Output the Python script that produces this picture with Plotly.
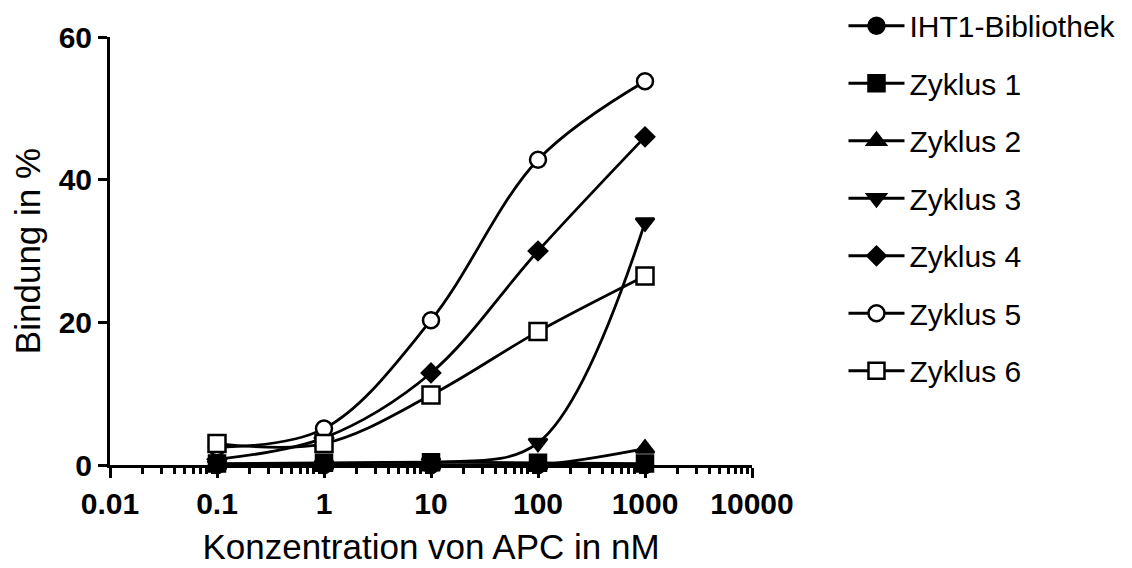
import plotly.graph_objects as go

conc = [0.1, 1, 10, 100, 1000]
names = ["IHT1-Bibliothek", "Zyklus 1", "Zyklus 2", "Zyklus 3", "Zyklus 4", "Zyklus 5", "Zyklus 6"]
iht1 = [0.0, 0.0, 0.0, 0.0, 0.0]
z1 = [0.2, 0.3, 0.4, 0.3, 0.2]
z2 = [0.0, 0.0, 0.0, 0.0, 2.3]
z3 = [0.0, 0.0, 0.3, 3.1, 34.0]
z4 = [0.8, 3.8, 12.9, 30.0, 46.0]
z5 = [2.5, 5.1, 20.3, 42.8, 53.8]
z6 = [3.0, 3.0, 9.8, 18.7, 26.5]
series = [iht1, z1, z2, z3, z4, z5, z6]
symbols = ["circle", "square", "triangle-up", "triangle-down", "diamond", "circle", "square"]
fills = ["black", "black", "black", "black", "black", "white", "white"]
sizes = [16, 16, 16, 16, 14, 16, 17]

xtickvals = [0.01, 0.1, 1, 10, 100, 1000, 10000]
xticktext = ["0.01", "0.1", "1", "10", "100", "1000", "10000"]
ytickvals = [0, 20, 40, 60]

fig = go.Figure()
for i, (nm, ys) in enumerate(zip(names, series)):
    fig.add_trace(go.Scatter(
        x=conc, y=ys, name=nm, mode="lines+markers",
        line=dict(color="black", width=2.8, shape="spline", smoothing=1.0),
        marker=dict(symbol=symbols[i], size=sizes[i], color=fills[i],
                    line=dict(color="black", width=2.5)),
        cliponaxis=False, legendgroup=nm,
    ))

font = "Liberation Sans, Arial, sans-serif"
fig.update_layout(
    width=1132, height=568,
    margin=dict(l=102, r=388, t=29, b=111, autoexpand=False),
    paper_bgcolor="white", plot_bgcolor="white",
    font=dict(family=font, color="black"),
    showlegend=True,
    legend=dict(x=1.1425, y=1.087, xanchor="left", yanchor="top",
                font=dict(size=30, family=font, color="black"),
                tracegroupgap=15.5, itemwidth=56, bgcolor="rgba(0,0,0,0)",
                maxheight=560),
    xaxis=dict(type="log", range=[-2, 4], tickvals=xtickvals, ticktext=xticktext,
               showgrid=False, zeroline=False, showline=True, linecolor="black", linewidth=3,
               ticks="outside", ticklen=10, tickwidth=3, tickcolor="black", ticklabelstandoff=0,
               tickfont=dict(size=30, family="Liberation Sans, Arial", color="black", weight="bold"),
               minor=dict(ticks="outside", ticklen=6, tickwidth=2.5, tickcolor="black",
                          tickvals=[m * 10 ** e for e in range(-2, 4) for m in range(2, 10)]),
               title=dict(text="Konzentration von APC in nM", font=dict(size=35, family=font), standoff=16)),
    yaxis=dict(range=[0, 60], tickvals=ytickvals, showgrid=False, zeroline=False,
               showline=True, linecolor="black", linewidth=3,
               ticks="outside", ticklen=9, tickwidth=3, tickcolor="black",
               tickfont=dict(size=30, family="Liberation Sans, Arial", color="black", weight="bold"),
               title=dict(text="Bindung in %", font=dict(size=35, family=font), standoff=14)),
)
fig.write_html("out.html")
